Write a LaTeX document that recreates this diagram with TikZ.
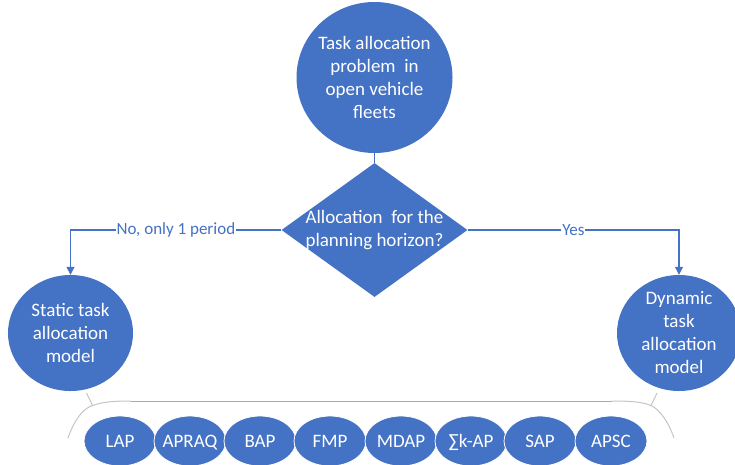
\documentclass[tikz,border=0pt]{standalone}
\usepackage{fontspec}
\setmainfont{Carlito}
\usetikzlibrary{shapes.geometric, arrows.meta}
\definecolor{officeblue}{HTML}{4472C4}
\definecolor{bracegray}{HTML}{C4C4C4}
\definecolor{bracedark}{HTML}{A9A9A9}

\begin{document}
\begin{tikzpicture}[x=1pt, y=-1pt,
	blob/.style={ellipse, fill=officeblue, inner sep=0pt},
	small/.style={blob, draw=white, line width=0.8pt, minimum width=72pt, minimum height=50pt},
	inblob/.style={text=white, align=center, font=\fontsize{19}{23}\selectfont},
	inname/.style={inblob, text height=13pt, text depth=1pt},
	conn/.style={officeblue, line width=1.2pt},
	connlabel/.style={fill=white, text=officeblue, inner sep=1pt, font=\fontsize{17}{20}\selectfont}]

		\useasboundingbox (0,0) rectangle (735,464);

		\node[blob, minimum width=156pt, minimum height=151pt, label={[inblob]center:{Task allocation\\problem~ in\\open vehicle\\fleets}}] (task) at (374.5,77.5) {};
		\node[diamond, fill=officeblue, inner sep=0pt, minimum width=186pt, minimum height=134pt, label={[inblob]center:{Allocation~ for the\\planning horizon?}}] (alloc) at (374.5,230) {};
		\node[blob, minimum width=125pt, minimum height=116pt, label={[inblob]center:{Static task\\allocation\\model}}] (static) at (70.5,333) {};
		\node[blob, minimum width=124pt, minimum height=116pt, label={[inblob]center:{Dynamic\\task\\allocation\\model}}] (dynamic) at (679,333) {};

		\draw[conn] (task.south) -- (alloc.north);
		\draw[conn, -{Triangle[length=8pt, width=8pt]}] (alloc.west) -| (static.north) node[connlabel, pos=0.25] (noLabel) {No, only 1 period};
		\draw[conn, -{Triangle[length=8pt, width=8pt]}] (alloc.east) -| (dynamic.north) node[connlabel, pos=0.25] (yesLabel) {Yes};

		\coordinate (tickL) at (86.5,393);
		\coordinate (braceL) at (92.5,405.5);
		\coordinate (tickR) at (657,393);
		\coordinate (braceR) at (651,405.5);

		\draw[bracegray, line width=1pt] (tickL) -- (braceL);
		\draw[bracegray, line width=1pt] (tickR) -- (braceR);
		\draw[bracegray, line width=1pt] (68,438) .. controls (74,421) and (82,409) .. (braceL) .. controls (104,401.5) and (116,401) .. (131,401);
		\draw[bracegray, line width=1pt] (612,401) .. controls (628,401) and (641,401.5) .. (braceR) .. controls (660,410) and (668,421) .. (674,438);
		\draw[bracedark, line width=1pt] (131,401) -- (612,401);

		\node[small, label={[inname]center:LAP}] (lap) at (120,441) {};
		\node[small, label={[inname]center:APRAQ}] (apraq) at (190,441) {};
		\node[small, label={[inname]center:BAP}] (bap) at (260,441) {};
		\node[small, label={[inname]center:FMP}] (fmp) at (330,441) {};
		\node[small, label={[inname]center:MDAP}] (mdap) at (401,441) {};
		\node[small, label={[inname]center:∑k-AP}] (kap) at (471,441) {};
		\node[small, label={[inname]center:SAP}] (sap) at (540,441) {};
		\node[small, label={[inname]center:APSC}] (apsc) at (611,441) {};

	\end{tikzpicture}
\end{document}
